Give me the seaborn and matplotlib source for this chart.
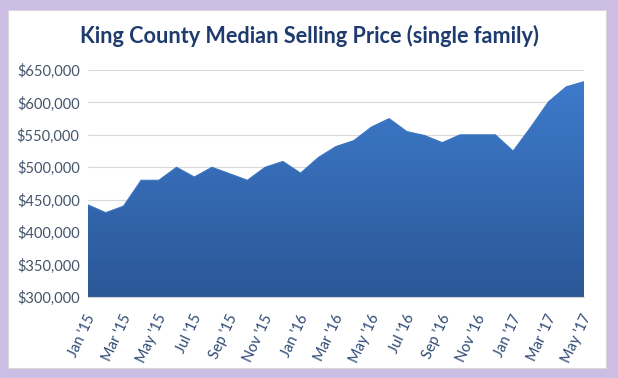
import numpy as np
import pandas as pd
import matplotlib
matplotlib.use("Agg")
import matplotlib.pyplot as plt
import matplotlib.transforms as mtransforms
import seaborn as sns
from matplotlib.patches import Rectangle
from matplotlib.colors import LinearSegmentedColormap

months = ["Jan '15", "Feb '15", "Mar '15", "Apr '15", "May '15", "Jun '15", "Jul '15", "Aug '15",
          "Sep '15", "Oct '15", "Nov '15", "Dec '15", "Jan '16", "Feb '16", "Mar '16", "Apr '16",
          "May '16", "Jun '16", "Jul '16", "Aug '16", "Sep '16", "Oct '16", "Nov '16", "Dec '16",
          "Jan '17", "Feb '17", "Mar '17", "Apr '17", "May '17"]
prices = [442000, 430000, 440000, 480000, 480000, 500000, 485000, 500000,
          490000, 480000, 500000, 509000, 491000, 515000, 532000, 541000,
          562000, 575000, 555000, 549000, 538000, 550000, 550000, 550000,
          525000, 562000, 601000, 624000, 632000]
y_ticks = [300000, 350000, 400000, 450000, 500000, 550000, 600000, 650000]
title = "King County Median Selling Price (single family)"

df = pd.DataFrame({"idx": np.arange(len(months)), "month": months, "price": prices})

sns.set_style("white")
plt.rcParams['font.family'] = ['Lato', 'DejaVu Sans']

fig = plt.figure(figsize=(6.18, 3.78), dpi=100)
fig.patch.set_facecolor("#cbbde3")
# white chart card
fig.patches.append(Rectangle((8/618, 1-368/378), (606-8)/618, (368-10)/378,
                             transform=fig.transFigure, facecolor="white",
                             edgecolor="#d9d9d9", lw=0.8, zorder=-10))

ax = fig.add_axes([88/618, 1-297/378, (584-88)/618, (297-70)/378])
ax.set_facecolor("white")

sns.lineplot(data=df, x="idx", y="price", ax=ax, color="#3a74c0", lw=0.8, zorder=3)
poly = ax.fill_between(df["idx"], prices, 300000, facecolor="none", edgecolor="none")
cmap = LinearSegmentedColormap.from_list("g", ["#2b5797", "#3d7bcb"])
grad = np.linspace(0, 1, 256).reshape(-1, 1)
im = ax.imshow(grad, aspect="auto", cmap=cmap, origin="lower",
               extent=[0, len(months)-1, 300000, max(prices)], zorder=2)
path = poly.get_paths()[0]
im.set_clip_path(path, transform=ax.transData)

ax.set_xlim(0, len(months)-1)
ax.set_ylim(300000, 650000)
ax.set_yticks(y_ticks)
ax.set_yticklabels([f"${v:,.0f}" for v in y_ticks], color="#44546a", fontsize=10.5)
ax.yaxis.grid(True, color="#d9d9d9", lw=0.8)
ax.set_axisbelow(True)
ax.set_xticks(np.arange(0, len(months), 2))
ax.set_xticks(np.arange(len(months)), minor=True)
ax.set_xticklabels(months[::2], rotation=65, ha="right", va="center", rotation_mode="anchor",
                   color="#2f4a75", fontsize=10.5)
ax.tick_params(axis="x", which="both", direction="out", length=4, color="#d0d0d0", pad=9)
ax.tick_params(axis="y", length=0, pad=6)
offset = mtransforms.ScaledTranslation(4/100, 0, fig.dpi_scale_trans)
for lbl in ax.get_xticklabels():
    lbl.set_transform(lbl.get_transform() + offset)
for s in ["top", "right", "left"]:
    ax.spines[s].set_visible(False)
ax.spines["bottom"].set_color("#d0d0d0")
ax.set_xlabel("")
ax.set_ylabel("")

fig.text(0.5, 1-36/378, title, ha="center", va="center", fontsize=15.6, fontweight="bold",
         color="#1f3b6e")

fig.savefig("out.png", dpi=100, facecolor=fig.get_facecolor())
